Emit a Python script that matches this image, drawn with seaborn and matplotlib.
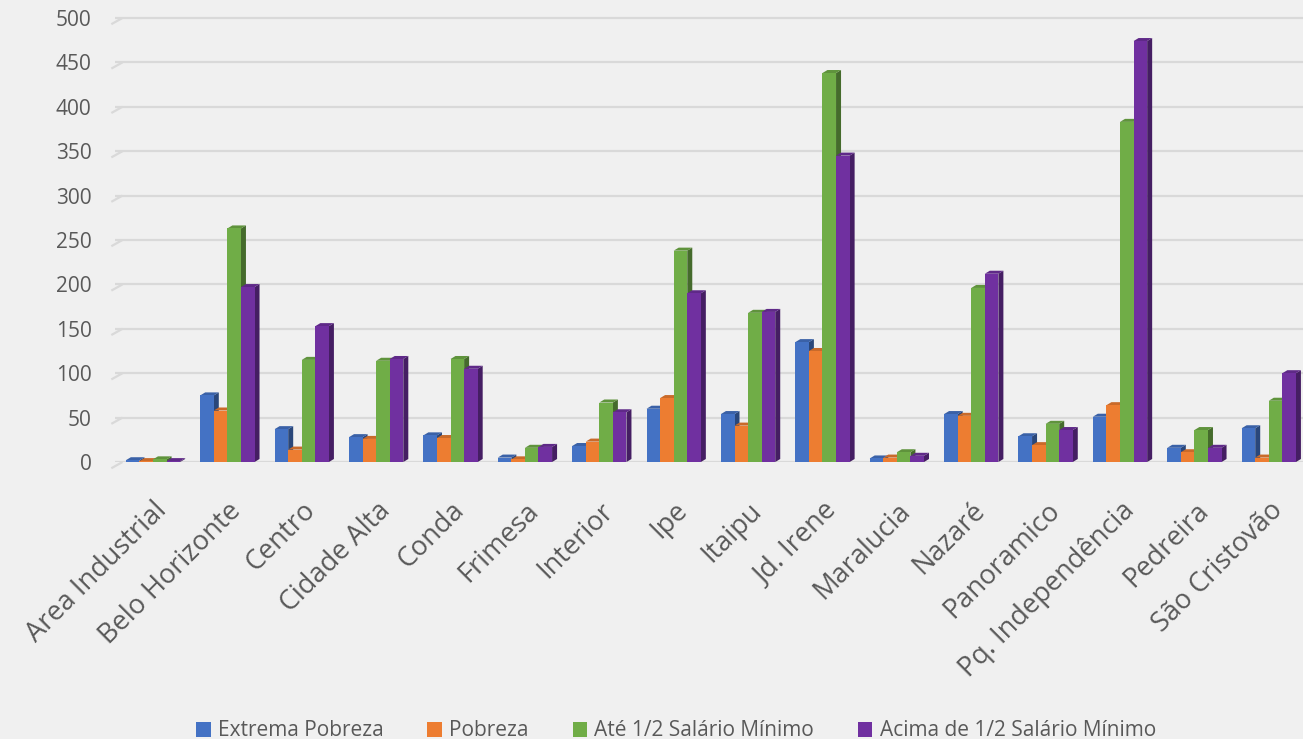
import matplotlib.pyplot as plt
import numpy as np
import pandas as pd
import seaborn as sns
from matplotlib.patches import Polygon
from matplotlib.colors import to_rgb

# data
bairros = ["Area Industrial", "Belo Horizonte", "Centro", "Cidade Alta", "Conda",
           "Frimesa", "Interior", "Ipe", "Itaipu", "Jd. Irene", "Maralucia",
           "Nazaré", "Panoramico", "Pq. Independência", "Pedreira", "São Cristovão"]
extrema_pobreza = [2, 75, 37, 28, 30, 5, 18, 60, 54, 135, 4, 54, 29, 51, 16, 38]
pobreza = [1, 58, 14, 26, 27, 3, 23, 72, 41, 125, 5, 52, 19, 64, 11, 5]
ate_meio_sm = [3, 263, 115, 114, 116, 16, 67, 238, 168, 438, 11, 196, 43, 383, 36, 69]
acima_meio_sm = [1, 197, 153, 116, 105, 17, 56, 190, 169, 345, 7, 212, 36, 474, 16, 100]

series_names = ["Extrema Pobreza", "Pobreza", "Até 1/2 Salário Mínimo",
                "Acima de 1/2 Salário Mínimo"]
series_colors = ["#4472C4", "#ED7D31", "#70AD47", "#7030A0"]
y_ticks = list(range(0, 501, 50))

df = pd.DataFrame({
    "bairro": bairros,
    series_names[0]: extrema_pobreza,
    series_names[1]: pobreza,
    series_names[2]: ate_meio_sm,
    series_names[3]: acima_meio_sm,
}).melt(id_vars="bairro", var_name="serie", value_name="valor")

sns.set_style("white")
plt.rcParams["font.family"] = ["Open Sans", "DejaVu Sans"]
text_color = "#595959"
bg = "#F0F0F0"

fig = plt.figure(figsize=(13.03, 7.39), dpi=100, facecolor=bg)
ax = fig.add_axes([0.0883, 0.3748, 0.9117, 0.6117])
ax.set_facecolor(bg)

sns.barplot(data=df, x="bairro", y="valor", hue="serie", hue_order=series_names,
            palette=series_colors, width=0.73, saturation=1, legend=False,
            edgecolor="none", linewidth=0, ax=ax, zorder=3)

ax.set_xlim(-0.51, 15.46)
ax.set_ylim(0, 509)
ax.set_yticks(y_ticks)
ax.grid(axis="y", color="#D9D9D9", linewidth=1.6, zorder=0)
ax.grid(axis="x", visible=False)
for s in ax.spines.values():
    s.set_visible(False)

# little diagonal stubs at the left end of the gridlines (3D wall edge)
xl = ax.get_xlim()[0]
for t in y_ticks:
    ax.plot([xl - 0.05, xl + 0.1], [t - 7, t], color="#D9D9D9", linewidth=1.6,
            zorder=0, clip_on=False, solid_capstyle="butt")

# fake 3D: side and top faces derived from the drawn bars
dx = 5 / 74.4
dy = 3.4
bars = sorted(ax.patches, key=lambda p: p.get_x())
for i, p in enumerate(bars):
    x, w, h = p.get_x(), p.get_width(), p.get_height()
    base = np.array(to_rgb(p.get_facecolor()))
    z = 3 + i * 0.001
    p.set_zorder(z)
    side = Polygon([(x + w, 0), (x + w + dx, dy), (x + w + dx, h + dy), (x + w, h)],
                   closed=True, facecolor=base * 0.62, edgecolor="none", zorder=z - 0.0005)
    top = Polygon([(x, h), (x + dx, h + dy), (x + w + dx, h + dy), (x + w, h)],
                  closed=True, facecolor=base * 0.85, edgecolor="none", zorder=z - 0.0004)
    ax.add_patch(side)
    ax.add_patch(top)

ax.set_xlabel("")
ax.set_ylabel("")
ax.tick_params(axis="y", length=0, pad=17, labelsize=15, labelcolor=text_color)
ax.tick_params(axis="x", length=0, pad=25, labelsize=19.5, labelcolor=text_color)
ax.set_xticks(range(len(bairros)))
ax.set_xticklabels(bairros, rotation=45, ha="right", va="top", rotation_mode="anchor")

handles = [plt.Rectangle((0, 0), 1, 1, facecolor=c, edgecolor="none") for c in series_colors]
fig.legend(handles, series_names, loc="center", bbox_to_anchor=(676 / 1303, 1 - 731 / 739),
           ncol=4, frameon=False, fontsize=15, labelcolor=text_color,
           handlelength=0.7, handleheight=0.7, handletextpad=0.35, columnspacing=2.1)

fig.savefig("out.png", dpi=100, facecolor=bg)
